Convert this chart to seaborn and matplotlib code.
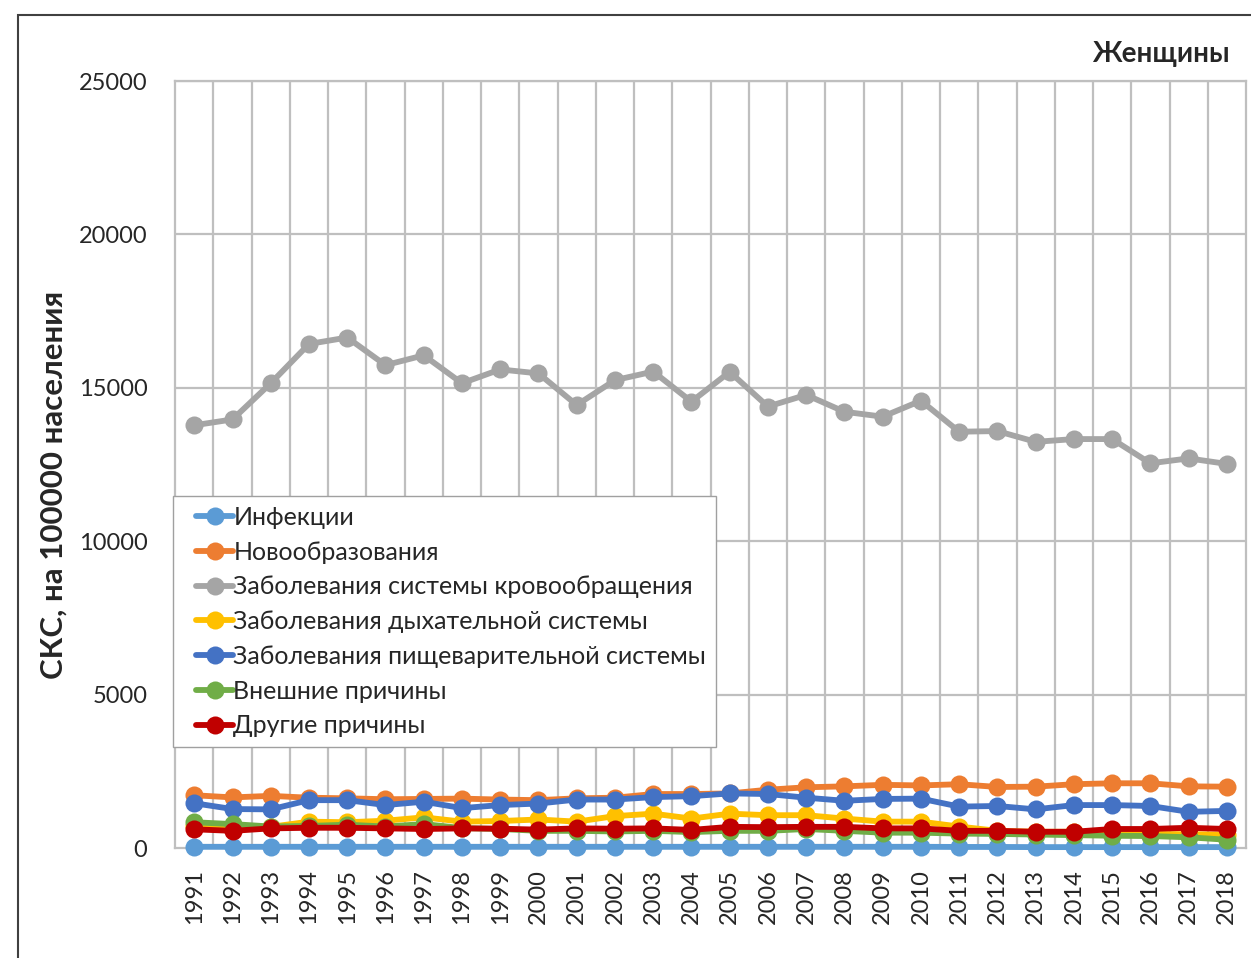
import numpy as np
import pandas as pd
import matplotlib
matplotlib.use('Agg')
import matplotlib.pyplot as plt
from matplotlib.patches import Rectangle
from matplotlib.lines import Line2D
from matplotlib.legend_handler import HandlerLine2D
import seaborn as sns

# %% Data
years = list(range(1991, 2019))

infections = [40, 40, 40, 40, 40, 40, 40, 40, 40, 40, 40, 40, 40, 40,
              40, 40, 40, 40, 40, 40, 35, 35, 30, 30, 30, 30, 30, 30]
neoplasms = [1720, 1650, 1700, 1640, 1620, 1590, 1600, 1610, 1580, 1560, 1620, 1640, 1760, 1760,
             1780, 1900, 1980, 2010, 2060, 2040, 2080, 1990, 2000, 2080, 2110, 2110, 2010, 2000]
circulatory = [13780, 13970, 15150, 16430, 16640, 15740, 16060, 15150, 15600, 15470, 14440, 15250, 15530, 14550,
               15520, 14390, 14770, 14220, 14060, 14580, 13570, 13590, 13240, 13330, 13330, 12540, 12700, 12520]
respiratory = [720, 680, 690, 860, 840, 890, 1000, 860, 880, 930, 860, 1040, 1120, 960,
               1120, 1070, 1070, 960, 860, 860, 700, 560, 530, 530, 480, 460, 450, 440]
digestive = [1460, 1270, 1260, 1560, 1560, 1400, 1510, 1300, 1400, 1450, 1580, 1580, 1660, 1690,
             1780, 1760, 1640, 1540, 1600, 1610, 1350, 1370, 1260, 1400, 1400, 1370, 1180, 1210]
external = [840, 780, 700, 720, 760, 700, 780, 650, 620, 560, 560, 540, 560, 520,
            560, 560, 620, 560, 500, 500, 470, 460, 440, 420, 400, 390, 350, 270]
other = [610, 560, 640, 660, 660, 640, 620, 640, 630, 600, 640, 630, 640, 590,
         690, 680, 690, 690, 640, 640, 560, 560, 530, 530, 620, 620, 660, 620]

series_names = ['Инфекции', 'Новообразования', 'Заболевания системы кровообращения',
                'Заболевания дыхательной системы', 'Заболевания пищеварительной системы',
                'Внешние причины', 'Другие причины']
series_values = [infections, neoplasms, circulatory, respiratory, digestive, external, other]
colors = ['#5B9BD5', '#ED7D31', '#A5A5A5', '#FFC000', '#4472C4', '#70AD47', '#C00000']

# long-form table for seaborn
rows = []
for name, vals in zip(series_names, series_values):
    for i, v in enumerate(vals):
        rows.append({'idx': i, 'year': years[i], 'value': v, 'series': name})
df = pd.DataFrame(rows)

# %% Plot
sns.set_style('white')
plt.rcParams['font.family'] = ['Lato', 'DejaVu Sans']

fig = plt.figure(figsize=(12.51, 9.58), dpi=100)
ax = fig.add_axes([0.140, 0.1148, 0.856, 0.8006])

for k, name in enumerate(series_names):
    sns.lineplot(data=df[df['series'] == name], x='idx', y='value', ax=ax,
                 color=colors[k], linewidth=4.2, marker='o', markersize=13,
                 markeredgewidth=0, label=name, zorder=3 + k, clip_on=False)

ax.set_xlim(-0.5, len(years) - 0.5)
ax.set_ylim(0, 25000)
ax.set_yticks(np.arange(0, 25001, 5000))
ax.set_xticks(range(len(years)))
ax.set_xticklabels([str(y) for y in years], rotation=90, fontsize=17)
ax.tick_params(axis='y', labelsize=17, pad=20, length=0)
ax.tick_params(axis='x', pad=15, length=0)

# gridlines: horizontal at major ticks, vertical between categories
for yv in range(5000, 25001, 5000):
    ax.axhline(yv, color='#BFBFBF', linewidth=1.6, zorder=1)
for xv in np.arange(0.5, len(years) - 0.5, 1):
    ax.axvline(xv, color='#BFBFBF', linewidth=1.6, zorder=1)
for side in ['left', 'top', 'right', 'bottom']:
    ax.spines[side].set_color('#BFBFBF')
    ax.spines[side].set_linewidth(1.6)

ax.set_xlabel('')
ax.set_ylabel('СКС, на 100000 населения', fontsize=22.5, fontweight='bold')
ax.yaxis.set_label_coords(-0.100, 0.473)

leg = ax.legend(loc='upper left', bbox_to_anchor=(-0.002, 0.459), fontsize=18,
                frameon=True, fancybox=False, framealpha=1, edgecolor='#A0A0A0',
                handlelength=2.02, handletextpad=0.0, labelspacing=0.47,
                borderpad=0.4, borderaxespad=0,
                handler_map={Line2D: HandlerLine2D(xpad=0.52)})
leg.get_frame().set_linewidth(1.0)
leg.set_zorder(20)

fig.text(0.983, 0.944, 'Женщины', ha='right', va='center', fontsize=20, fontweight='bold')

# outer chart border
fig.patches.append(Rectangle((0.0144, -0.05), 1.2, 1.034, transform=fig.transFigure,
                             fill=False, edgecolor='#404040', linewidth=1.5))

fig.savefig('out.png', dpi=100)
